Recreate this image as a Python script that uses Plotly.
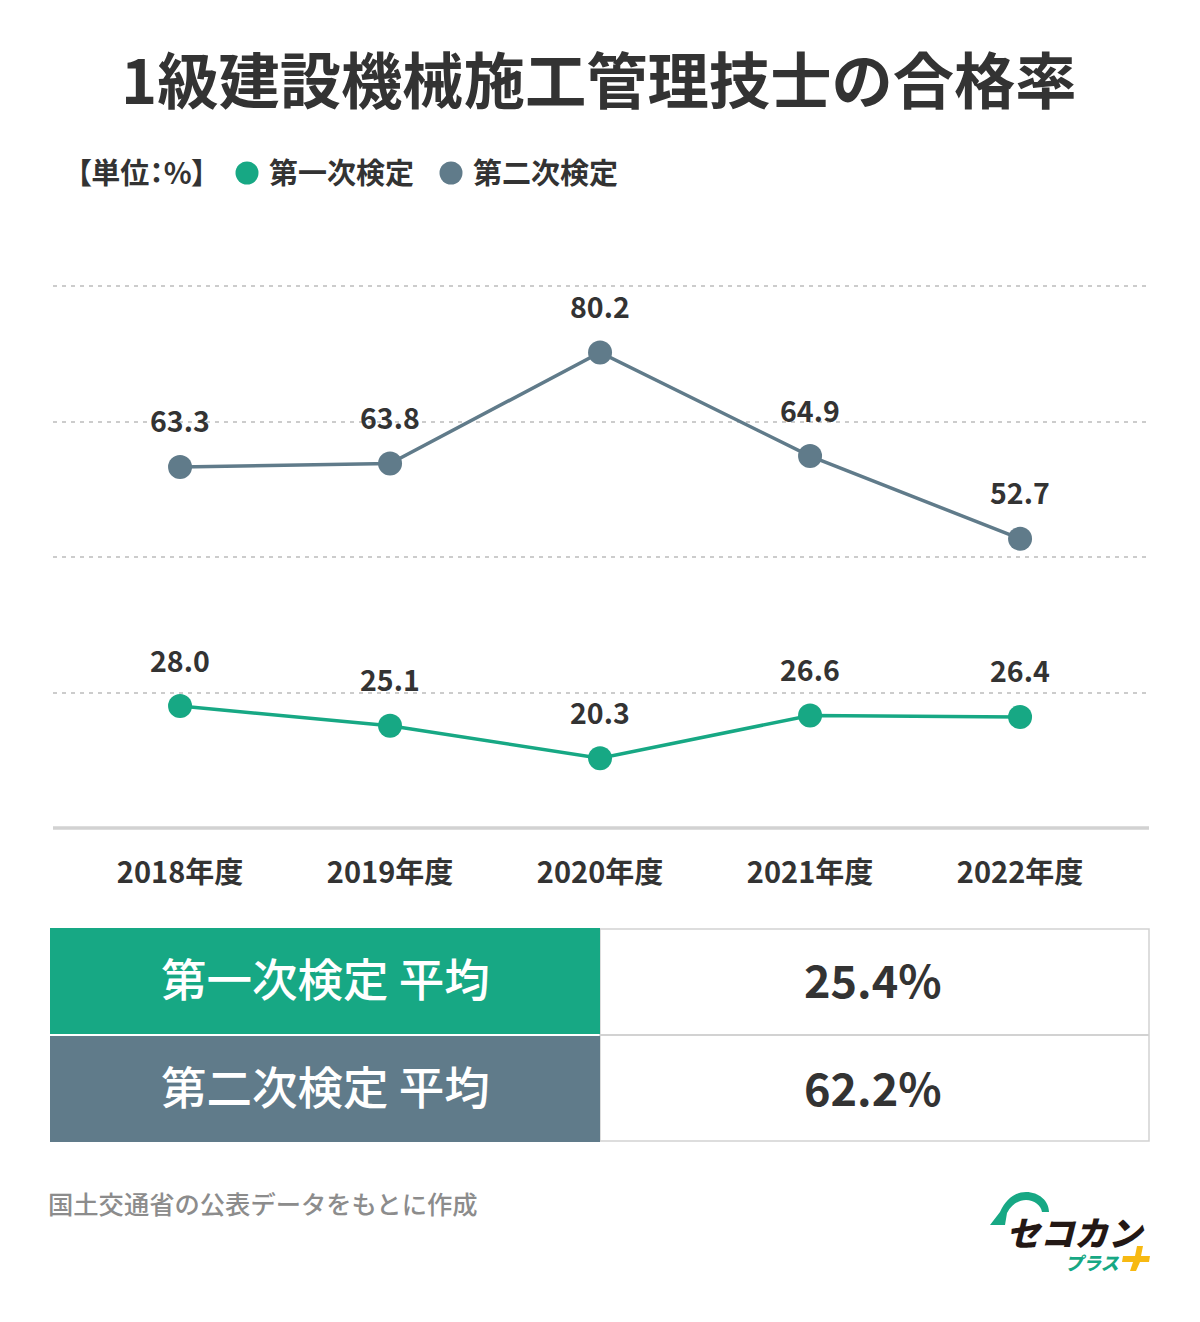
import plotly.graph_objects as go

FONT = "Noto Sans CJK JP"
MEDIUM = "Noto Sans CJK JP Medium, Noto Sans CJK JP"
W, H = 1200, 1322
GREEN = "#17a884"
SLATE = "#607b8a"
INK = "#333333"
GRAY = "#d2d2d2"
TEXT_LIFT = 4

years = ["2018年度", "2019年度", "2020年度", "2021年度", "2022年度"]
first_rate = [28.0, 25.1, 20.3, 26.6, 26.4]
second_rate = [63.3, 63.8, 80.2, 64.9, 52.7]
grid_values = [30, 50, 70, 90]
average_names = ["第一次検定 平均", "第二次検定 平均"]
average_values = ["25.4%", "62.2%"]


def px(x):
    return x / W


def py(y):
    return 1 - y / H


def note(x, y, text, size, color=INK, family=FONT, weight=700, **kwargs):
    fig.add_annotation(x=px(x), y=py(y - TEXT_LIFT), xref="paper", yref="paper", text=text,
                       showarrow=False, xanchor=kwargs.pop("xanchor", "center"), yanchor="middle",
                       font=dict(family=family, size=size, color=color, weight=weight, **kwargs))


def box(x0, y0, x1, y1, fill=None, line=None, width=0):
    fig.add_shape(type="rect", xref="paper", yref="paper",
                  x0=px(x0), y0=py(y0), x1=px(x1), y1=py(y1), fillcolor=fill,
                  line=dict(color=line, width=width))


def dot(x, y, r, color):
    fig.add_shape(type="circle", xref="paper", yref="paper",
                  x0=px(x - r), y0=py(y - r), x1=px(x + r), y1=py(y + r),
                  fillcolor=color, line=dict(width=0))


def poly(points, fill):
    path = "M " + " L ".join(f"{px(x)} {py(y)}" for x, y in points) + " Z"
    fig.add_shape(type="path", xref="paper", yref="paper", path=path, fillcolor=fill, line=dict(width=0))


def curve(commands, fill):
    parts = []
    for cmd, *pts in commands:
        parts.append(cmd + " " + " ".join(f"{px(x)} {py(y)}" for x, y in pts))
    fig.add_shape(type="path", xref="paper", yref="paper", path=" ".join(parts) + " Z",
                  fillcolor=fill, line=dict(width=0))


fig = go.Figure()
for values, color in [(second_rate, SLATE), (first_rate, GREEN)]:
    fig.add_trace(go.Scatter(x=years, y=values, mode="lines+markers", showlegend=False,
                             line=dict(color=color, width=3.5), marker=dict(color=color, size=24)))
    for year, value in zip(years, values):
        fig.add_annotation(x=year, y=value, text=f"{value:.1f}", showarrow=False, yshift=47,
                           yanchor="middle", font=dict(family=FONT, size=28.5, color=INK, weight=700))

fig.update_layout(
    width=W, height=H, margin=dict(l=0, r=0, t=0, b=0),
    paper_bgcolor="white", plot_bgcolor="white", showlegend=False,
    xaxis=dict(domain=[px(53), px(1149)], range=[-0.605, 4.614], type="category",
               showgrid=False, showline=False,
               ticks="", ticklabelstandoff=25, tickfont=dict(family=FONT, size=29, color=INK, weight=700)),
    yaxis=dict(domain=[py(828), py(282)], range=[10, 90.6], tickvals=grid_values, showticklabels=False,
               showline=False, zeroline=False, gridcolor="#cccccc", gridwidth=1.5, griddash="4px,5px"),
)

# baseline
fig.add_shape(type="line", xref="paper", yref="paper", x0=px(53), x1=px(1149), y0=py(828), y1=py(828),
              line=dict(color=GRAY, width=3.5))

note(599, 81, "1級建設機械施工管理技士の合格率", 61.3)

# legend row
note(141, 175, "【単位：%】", 29)
dot(247, 173, 11.5, GREEN)
note(342, 175, "第一次検定", 29)
dot(451, 173, 11.5, SLATE)
note(545, 175, "第二次検定", 29)

# averages table
box(600, 929, 1149, 1141, line=GRAY, width=1.5)
fig.add_shape(type="line", xref="paper", yref="paper", x0=px(600), x1=px(1149), y0=py(1035), y1=py(1035),
              line=dict(color=GRAY, width=2))
for (top, bottom), name, value, fill in zip([(928, 1034), (1036, 1142)], average_names, average_values, [GREEN, SLATE]):
    box(50, top, 600, bottom, fill=fill)
    note(325, (top + bottom) / 2, name, 45.5, color="white", family=MEDIUM, weight=400)
    note(873, (top + bottom) / 2 + 1, value, 45)

note(46, 1207, "国土交通省の公表データをもとに作成", 25.3, color="#8c8c8c", family=MEDIUM, weight=400, xanchor="left")

# logo
curve([("M", (990, 1225)), ("L", (1005, 1225)), ("L", (1007, 1213)),
       ("C", (1012, 1204), (1019, 1200), (1026, 1200)), ("C", (1034, 1200), (1041, 1205), (1042, 1212)),
       ("L", (1049, 1212)), ("C", (1049, 1201), (1039, 1192), (1026, 1192)),
       ("C", (1015, 1192), (1006, 1199), (1000, 1212))], GREEN)
note(1075, 1235, "セコカン", 34, color="#231815", weight=900, style="italic")
note(1092, 1266, "プラス", 18, color=GREEN, weight=900, style="italic")
poly([(1123, 1256), (1135, 1256), (1137, 1246), (1143, 1246), (1141, 1256), (1150, 1256), (1149, 1262),
      (1140, 1262), (1136, 1271), (1130, 1271), (1133, 1262), (1122, 1262)], "#f7b912")

# the bracket label is set proportionally in the reference
palt = """document.body.style.margin='0';
document.querySelectorAll('text').forEach(function (t) {
  if (t.textContent.indexOf('単位') >= 0) { t.style.fontFeatureSettings = '"palt"'; }
});"""
fig.write_html("out.html", post_script=palt, config=dict(displayModeBar=False))
